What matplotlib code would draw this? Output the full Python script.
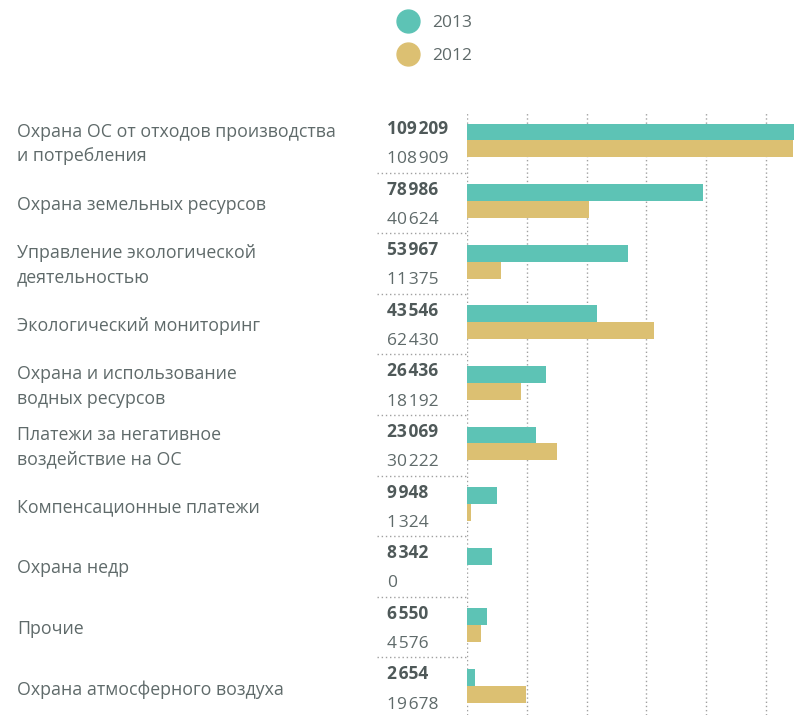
import matplotlib
matplotlib.use("Agg")
import matplotlib.pyplot as plt
from matplotlib.lines import Line2D

categories = [
    "Охрана ОС от отходов производства\nи потребления",
    "Охрана земельных ресурсов",
    "Управление экологической\nдеятельностью",
    "Экологический мониторинг",
    "Охрана и использование\nводных ресурсов",
    "Платежи за негативное\nвоздействие на ОС",
    "Компенсационные платежи",
    "Охрана недр",
    "Прочие",
    "Охрана атмосферного воздуха",
]
values_2013 = [109209, 78986, 53967, 43546, 26436, 23069, 9948, 8342, 6550, 2654]
values_2012 = [108909, 40624, 11375, 62430, 18192, 30222, 1324, 0, 4576, 19678]

teal = "#5dc3b5"
gold = "#dcc072"
txt = "#5f6a6a"
plt.rcParams["font.family"] = ["Open Sans", "DejaVu Sans"]

def fmt(v):
    return f"{v:,}".replace(",", "\u200a")

W, H = 807, 715
fig = plt.figure(figsize=(W / 100, H / 100), dpi=100)
ax = fig.add_axes([467 / W, 0, (796 - 467) / W, (H - 112) / H])

n = len(categories)
rows = list(range(n))
bh = 0.28
ax.barh([r + 0.33 for r in rows], values_2013, height=bh, color=teal, zorder=2)
ax.barh([r + 0.61 for r in rows], values_2012, height=bh, color=gold, zorder=2)

ax.set_xlim(0, 110000)
ax.set_ylim((H - 112) / 60.6, 0)
ax.set_xticks(range(0, 100001, 20000))
ax.set_yticks([])
ax.tick_params(length=0, labelbottom=False)
ax.grid(axis="x", linestyle=(0, (1, 2)), color="#a0a0a0", lw=1)
ax.set_axisbelow(True)
for s in ax.spines.values():
    s.set_visible(False)

# row separators to the left of the plot
ax.hlines(rows[1:], -0.274, 0, transform=ax.get_yaxis_transform(),
          clip_on=False, linestyles=(0, (1, 2)), colors="#a0a0a0", lw=1)

yt = ax.get_yaxis_transform()
for r, cat, a, b in zip(rows, categories, values_2013, values_2012):
    ax.text(-1.368, r + 0.53, cat, transform=yt, ha="left", va="center",
            fontsize=12.8, color=txt, linespacing=1.45)
    ax.text(-0.243, r + 0.28, fmt(a), transform=yt, ha="left", va="center",
            fontsize=12.5, color="#4f5959", fontweight="bold")
    ax.text(-0.243, r + 0.78, fmt(b), transform=yt, ha="left", va="center",
            fontsize=12.5, color=txt)

handles = [Line2D([], [], marker="o", ls="", color=teal, markersize=16.5),
           Line2D([], [], marker="o", ls="", color=gold, markersize=16.5)]
fig.legend(handles, ["2013", "2012"], loc="upper left",
           bbox_to_anchor=(391 / W, 1 - 15 / H), frameon=False,
           fontsize=12.5, labelcolor=txt, handletextpad=0.35,
           labelspacing=0.95, borderpad=0, borderaxespad=0)

fig.savefig("out.png", dpi=100)
